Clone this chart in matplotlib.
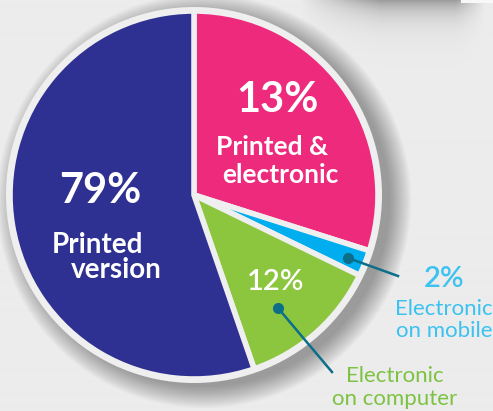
# pie of reading habits, drawn on a full-figure pixel-space axes
import numpy as np
import matplotlib.pyplot as plt
from matplotlib.patches import Circle

# slices clockwise from 12 o'clock
categories = ['Printed & electronic', 'Electronic on mobile',
              'Electronic on computer', 'Printed version']
pct_labels = ['13%', '2%', '12%', '79%']
# angular share of each slice as measured on the picture (in %)
slice_share = [29.9, 2.3, 12.5, 55.3]
colors = ['#ed2a7b', '#00aeef', '#8cc63f', '#2e3192']

W, H = 493, 411
fig = plt.figure(figsize=(W / 100, H / 100), dpi=100)
ax = fig.add_axes([0, 0, 1, 1])

# light background with dark band top right
yy, xx = np.mgrid[0:H, 0:W]
bg = np.full((H, W), 0.925)
band = np.clip((xx - 300) / 80, 0, 1) * np.clip((485 - xx) / 30, 0, 1)
bg -= 0.33 * band * np.exp(-yy / 14.0)
bg[(yy < 4) & (xx > 460)] = 0.97
ax.imshow(bg, cmap='gray', vmin=0, vmax=1, extent=(0, W, 0, H),
          origin='upper', zorder=0, interpolation='bilinear')

cx, cy, r = 194, 216, 184

# soft drop shadow, mostly to the right
for i in range(16):
    ax.add_patch(Circle((cx + 10, cy - 6), r + 2 + i * 1.4, color='black',
                        alpha=0.024, lw=0, zorder=1))
ax.add_patch(Circle((cx, cy), r + 4, color='#efefef', lw=0, zorder=2))

wedges, _ = ax.pie(slice_share, colors=colors, startangle=90,
                   counterclock=False, center=(cx, cy), radius=r,
                   wedgeprops=dict(edgecolor='#efefef', linewidth=4))
for w in wedges:
    w.set_zorder(3)

fam = ['Lato', 'DejaVu Sans']
white = 'white'
ax.text(100, 208, pct_labels[3], color=white, fontsize=30, fontweight='bold',
        ha='center', va='baseline', family=fam, zorder=5)
ax.text(98, 158, 'Printed', color=white, fontsize=20, fontweight='bold',
        ha='center', va='baseline', family=fam, zorder=5)
ax.text(116, 133, 'version', color=white, fontsize=20, fontweight='bold',
        ha='center', va='baseline', family=fam, zorder=5)

ax.text(277, 299, pct_labels[0], color=white, fontsize=30, fontweight='bold',
        ha='center', va='baseline', family=fam, zorder=5)
ax.text(272, 256, 'Printed &', color=white, fontsize=19, fontweight='bold',
        ha='center', va='baseline', family=fam, zorder=5)
ax.text(280, 228, 'electronic', color=white, fontsize=19, fontweight='bold',
        ha='center', va='baseline', family=fam, zorder=5)

ax.text(276, 121, pct_labels[2], color=white, fontsize=21, fontweight='semibold',
        ha='center', va='baseline', family=fam, zorder=5)

# leader lines
lead = '#0d6e89'
ax.plot([278, 332], [103, 39], color=lead, lw=1.8, zorder=6)
ax.plot([278], [103], 'o', color=lead, ms=7, zorder=6)
ax.plot([348, 398], [153, 135], color=lead, lw=1.8, zorder=6)
ax.plot([348], [153], 'o', color=lead, ms=7, zorder=6)

lb = '#3cc2f0'
ax.text(444, 124, pct_labels[1], color=lb, fontsize=21, fontweight='semibold',
        ha='center', va='baseline', family=fam, zorder=5)
ax.text(444, 96, 'Electronic', color=lb, fontsize=16,
        ha='center', va='baseline', family=fam, zorder=5)
ax.text(444, 74, 'on mobile', color=lb, fontsize=16,
        ha='center', va='baseline', family=fam, zorder=5)

gr = '#7dc242'
ax.text(395, 29, 'Electronic', color=gr, fontsize=16,
        ha='center', va='baseline', family=fam, zorder=5)
ax.text(395, 6, 'on computer', color=gr, fontsize=16,
        ha='center', va='baseline', family=fam, zorder=5)

ax.set_xlim(0, W)
ax.set_ylim(0, H)
ax.set_aspect('auto')
ax.axis('off')

fig.savefig('out.png', dpi=100)
